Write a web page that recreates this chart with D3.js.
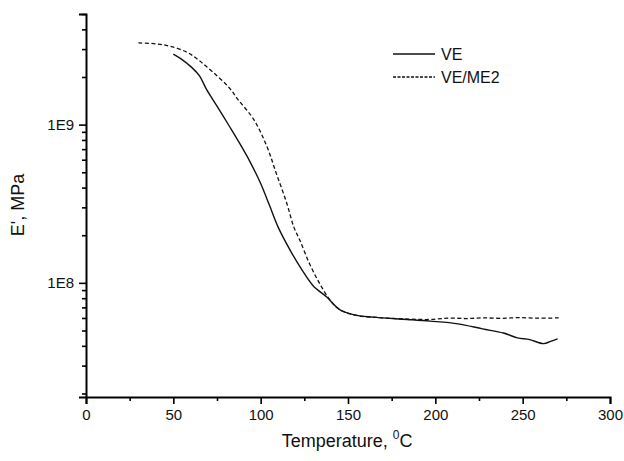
<!DOCTYPE html>
<html lang="en">
<head>
    <meta charset="UTF-8">
    <title>E' vs Temperature</title>
    <script src="https://d3js.org/d3.v7.min.js"></script>
    <style>
        body { margin: 0; background: #fff; }
        svg { display: block; font-family: "Liberation Sans", Arial, sans-serif; }
    </style>
</head>
<body>
    <script>
        // data (temperature in °C, E' in MPa)
        const veTemp = [50, 54, 60.5, 65, 69, 75, 82, 88, 94, 100, 105, 110, 117, 124, 130, 138, 145, 153, 164, 184, 197, 213, 227, 239, 247, 254, 262, 266, 270];
        const veMod = [2.79e9, 2.62e9, 2.30e9, 2.03e9, 1.67e9, 1.31e9, 9.8e8, 7.6e8, 5.8e8, 4.25e8, 3.1e8, 2.25e8, 1.6e8, 1.19e8, 9.6e7, 8.1e7, 6.8e7, 6.3e7, 6.07e7, 5.87e7, 5.73e7, 5.51e7, 5.12e7, 4.82e7, 4.49e7, 4.38e7, 4.13e7, 4.27e7, 4.43e7];

        const me2Temp = [30, 40, 48, 58, 65, 73, 82, 87, 96, 103.5, 109, 115, 119, 122.5, 128, 134, 140, 145, 154, 168, 185, 197, 208, 218, 227, 238, 248, 259, 271];
        const me2Mod = [3.28e9, 3.24e9, 3.13e9, 2.86e9, 2.53e9, 2.13e9, 1.71e9, 1.44e9, 1.08e9, 7.3e8, 4.9e8, 3.17e8, 2.25e8, 1.85e8, 1.32e8, 9.8e7, 7.7e7, 6.8e7, 6.25e7, 6.03e7, 5.9e7, 5.87e7, 5.99e7, 5.95e7, 6.01e7, 5.97e7, 6.03e7, 5.98e7, 6.01e7];

        const xTicks = [0, 50, 100, 150, 200, 250, 300];
        const xMinor = [25, 75, 125, 175, 225, 275];
        const yTicks = [1e8, 1e9];
        const yTickLabels = ['1E8', '1E9'];
        const yMinor = [2e7, 3e7, 4e7, 5e7, 6e7, 7e7, 8e7, 9e7, 2e8, 3e8, 4e8, 5e8, 6e8, 7e8, 8e8, 9e8, 2e9, 3e9, 4e9, 5e9];

        const seriesNames = ['VE', 'VE/ME2'];

        const width = 624, height = 461;
        const m = { left: 86, top: 14, right: 14, bottom: 64 };

        const svg = d3.select('body').append('svg').attr('width', width).attr('height', height);

        const x = d3.scaleLinear().domain([0, 300]).range([m.left, width - m.right]);
        const y = d3.scaleLog().domain([1.9e7, 5e9]).range([height - m.bottom, m.top]);

        // axes
        svg.append('g').attr('transform', `translate(0,${height - m.bottom})`)
            .call(d3.axisBottom(x).tickValues(xTicks).tickSize(7).tickPadding(5).tickFormat(d3.format('d')));
        svg.append('g').attr('transform', `translate(0,${height - m.bottom})`)
            .call(d3.axisBottom(x).tickValues(xMinor).tickSize(4).tickFormat(''))
            .select('.domain').remove();

        svg.append('g').attr('transform', `translate(${m.left},0)`)
            .call(d3.axisLeft(y).tickValues(yTicks).tickSize(7).tickPadding(5)
                .tickFormat((d, i) => yTickLabels[i]));
        svg.append('g').attr('transform', `translate(${m.left},0)`)
            .call(d3.axisLeft(y).tickValues(yMinor).tickSize(4).tickFormat(''))
            .select('.domain').remove();

        svg.selectAll('.domain').attr('stroke', '#000').attr('stroke-width', 2);
        svg.selectAll('.tick line').attr('stroke', '#000').attr('stroke-width', 1.6);
        svg.selectAll('.tick text').attr('font-size', 15).attr('fill', '#111')
            .attr('font-family', '"Liberation Sans", Arial, sans-serif');

        // titles
        const xt = svg.append('text')
            .attr('x', 347).attr('y', 447)
            .attr('text-anchor', 'middle')
            .attr('font-size', 18).attr('fill', '#111');
        xt.append('tspan').text('Temperature, ');
        xt.append('tspan').text('0').attr('font-size', 12).attr('dy', -8);
        xt.append('tspan').text('C').attr('dy', 8);

        svg.append('text')
            .attr('transform', 'translate(24,205) rotate(-90)')
            .attr('text-anchor', 'middle')
            .attr('font-size', 18).attr('fill', '#111')
            .text("E', MPa");

        // curves
        const line = d3.line().x(d => x(d[0])).y(d => y(d[1])).curve(d3.curveCatmullRom.alpha(0.5));
        const veData = veTemp.map((t, i) => [t, veMod[i]]);
        const me2Data = me2Temp.map((t, i) => [t, me2Mod[i]]);

        svg.append('path').datum(veData).attr('d', line)
            .attr('fill', 'none').attr('stroke', '#111').attr('stroke-width', 1.4);
        svg.append('path').datum(me2Data).attr('d', line)
            .attr('fill', 'none').attr('stroke', '#111').attr('stroke-width', 1.3)
            .attr('stroke-dasharray', '4,2.5');

        // legend
        const legend = svg.append('g');
        seriesNames.forEach((name, i) => {
            const ly = 54 + i * 23;
            legend.append('line')
                .attr('x1', 393).attr('x2', 435).attr('y1', ly).attr('y2', ly)
                .attr('stroke', '#111').attr('stroke-width', 1.3)
                .attr('stroke-dasharray', i === 1 ? '3,1.5' : null);
            legend.append('text')
                .attr('x', 441).attr('y', ly + 6)
                .attr('font-size', 16).attr('fill', '#111')
                .text(name);
        });
    </script>
</body>
</html>
